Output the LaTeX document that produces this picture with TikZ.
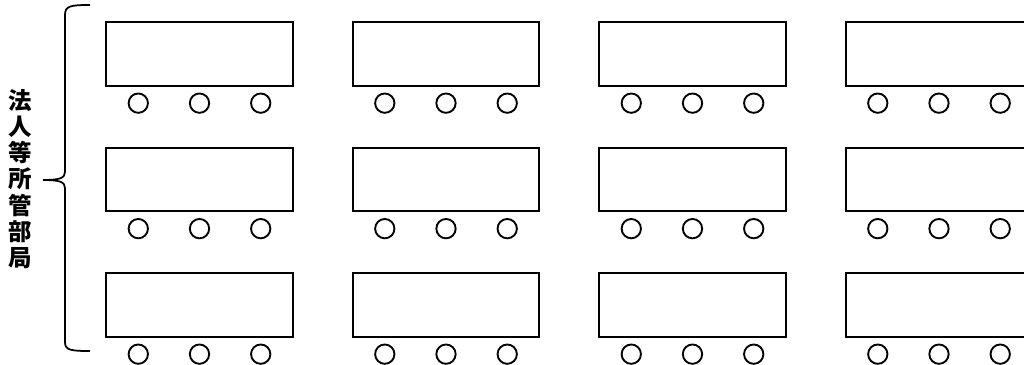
\documentclass[tikz,border=0pt]{standalone}
\usepackage{fontspec}
\newfontfamily\jpfont{Noto Sans CJK JP}
\usetikzlibrary{positioning}

\tikzset{
    desk/.style={draw, line width=1.5pt, minimum width=5.6cm, minimum height=1.9cm, inner sep=0pt},
    chair/.style={draw, circle, line width=1.6pt, minimum size=0.58cm, inner sep=0pt},
    bracket/.style={line width=1.5pt},
    dept/.style={align=center, font=\jpfont\bfseries\fontsize{20}{22.4}\selectfont, inner sep=0pt},
}

\begin{document}
\begin{tikzpicture}[x=0.03cm, y=-0.03cm]
    \useasboundingbox (0,0) rectangle (1024,365);
    % label and brace
    \node[dept] (label) at (20,179) {法\\人\\等\\所\\管\\部\\局};
    \coordinate (tip) at (43,180);
    \draw[bracket] (90,5) .. controls (70,5) and (65,6) .. (65,15) -- (65,172)
        .. controls (65,178) and (60,180) .. (tip)
        .. controls (60,180) and (65,182) .. (65,188) -- (65,342)
        .. controls (65,350) and (70,351) .. (90,351);
    % desks with three chairs each
    \foreach \r in {0,1,2} {
        \foreach \c in {0,...,3} {
            \node[desk] (desk-\r-\c) at ({199.5+246.5*\c},{54+125.5*\r}) {};
            \node[chair, below=0.18cm of desk-\r-\c] (chair-\r-\c-b) {};
            \node[chair, left=1.2cm of chair-\r-\c-b] (chair-\r-\c-a) {};
            \node[chair, right=1.2cm of chair-\r-\c-b] (chair-\r-\c-c) {};
        }
    }
\end{tikzpicture}
\end{document}
